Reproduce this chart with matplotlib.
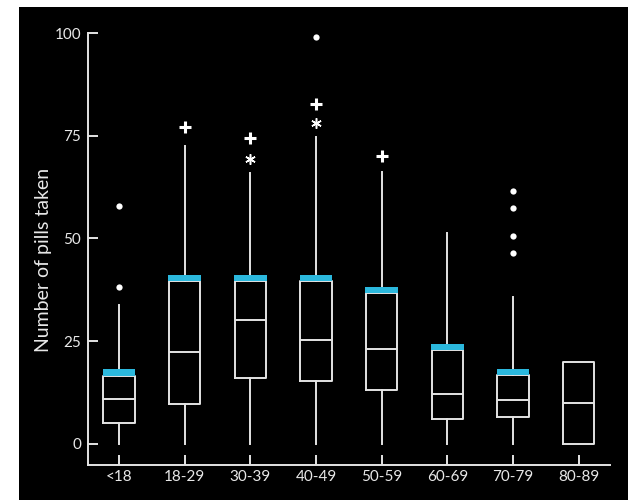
import matplotlib
matplotlib.use("Agg")
import matplotlib.pyplot as plt
from matplotlib.patches import Rectangle
import numpy as np

categories = ['<18', '18-29', '30-39', '40-49', '50-59', '60-69', '70-79', '80-89']
whislo = [0, 0, 0, 0, 0, 0, 0, 0]
q1 = [4.9, 9.6, 16.0, 15.3, 13.1, 6.1, 6.4, 0.0]
med = [10.8, 22.3, 30.2, 25.3, 23.0, 12.2, 10.6, 10.0]
q3 = [16.5, 39.7, 39.7, 39.7, 36.7, 22.8, 16.7, 19.8]
whishi = [33.8, 72.6, 66.0, 74.8, 66.1, 51.4, 35.7, 19.8]
cyan_top = [18.2, 41.1, 41.1, 41.1, 38.2, 24.3, 18.2, None]

dot_outliers = {'<18': [57.9, 38.2], '40-49': [99.1], '70-79': [61.6, 57.3, 50.7, 46.4]}
plus_outliers = {'18-29': [77.1], '30-39': [74.4], '40-49': [82.7], '50-59': [70.1]}
star_outliers = {'30-39': [69.3], '40-49': [78.2]}

yticks = [0, 25, 50, 75, 100]

plt.rcParams['font.family'] = ['Lato', 'DejaVu Sans']

fig = plt.figure(figsize=(6.28, 5.00), dpi=100, facecolor='white')
fig.patches.append(Rectangle((19 / 628, 0), 1 - 19 / 628, 493 / 500,
                             transform=fig.transFigure, facecolor='black',
                             edgecolor='none', zorder=-10))
ax = fig.add_axes([88.3 / 628, 35.5 / 500, (610 - 88.3) / 628, (464.5 - 33.3) / 500])
ax.set_facecolor('none')

line_col = '#e4e4e4'
text_col = '#e8e8e8'
cyan = '#2bb8dd'
pos = np.arange(len(categories))

stats = []
for i, c in enumerate(categories):
    stats.append(dict(label=c, whislo=whislo[i], q1=q1[i], med=med[i], q3=q3[i],
                      whishi=whishi[i], fliers=[]))
stats[-1]['whislo'] = q1[-1]
stats[-1]['whishi'] = q3[-1]

lw = 1.4
ax.bxp(stats, positions=pos, widths=0.48, showcaps=False, showfliers=False,
       boxprops=dict(color=line_col, linewidth=lw),
       whiskerprops=dict(color=line_col, linewidth=lw),
       medianprops=dict(color=line_col, linewidth=lw))

for i, t in enumerate(cyan_top):
    if t is None:
        continue
    ax.bar(pos[i], t - q3[i], bottom=q3[i], width=0.50, color=cyan, zorder=3,
           edgecolor='none')

for c, vals in dot_outliers.items():
    i = categories.index(c)
    ax.plot([pos[i]] * len(vals), vals, 'o', color='white', markersize=4.5,
            markeredgewidth=0, zorder=4)
for c, vals in plus_outliers.items():
    i = categories.index(c)
    ax.plot([pos[i]] * len(vals), vals, '+', color='white', markersize=8.5,
            markeredgewidth=2.2, zorder=4)
for c, vals in star_outliers.items():
    i = categories.index(c)
    ax.plot([pos[i]] * len(vals), vals, marker=(6, 2, 0), linestyle='none',
            color='white', markersize=7.5, markeredgewidth=1.1, zorder=4)

ax.set_xlim(-0.467, 7.477)
ax.set_ylim(-5.1, 100)
ax.set_yticks(yticks)
ax.set_yticklabels([str(v) for v in yticks])
ax.set_xticks(pos)
ax.set_xticklabels(categories)

for s in ['top', 'right']:
    ax.spines[s].set_visible(False)
for s in ['left', 'bottom']:
    ax.spines[s].set_color(line_col)
    ax.spines[s].set_linewidth(1.4)

ax.tick_params(axis='both', direction='in', length=7.5, width=1.4, color=line_col,
               labelcolor=text_col, labelsize=11)
ax.tick_params(axis='y', pad=5)
ax.tick_params(axis='x', pad=4)

ax.set_ylabel('Number of pills taken', color=text_col, fontsize=14)
ax.yaxis.set_label_coords(-0.069, 0.474)

fig.savefig('out.png', dpi=100, facecolor='white')
